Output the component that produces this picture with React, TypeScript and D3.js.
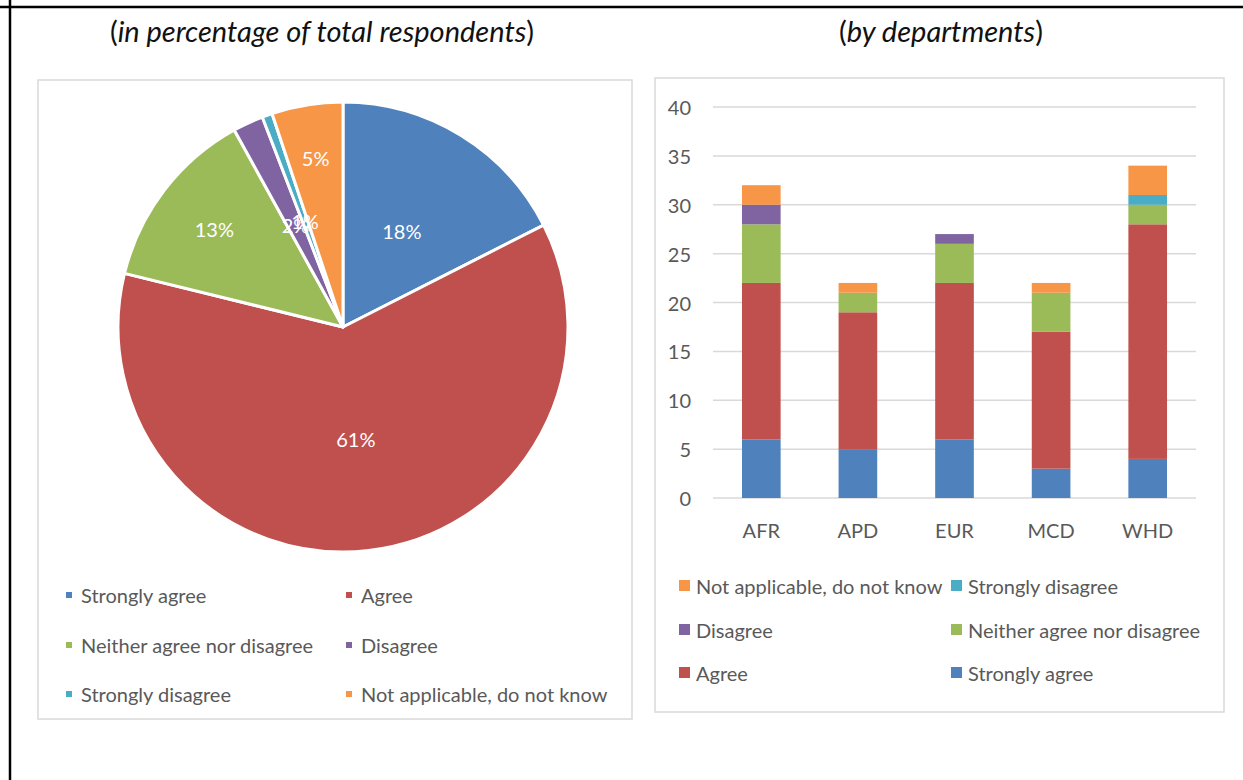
import React from "react";
import * as d3 from "d3";

const seriesNames = [
  "Strongly agree",
  "Agree",
  "Neither agree nor disagree",
  "Disagree",
  "Strongly disagree",
  "Not applicable, do not know",
];
const seriesColors = ["#4F81BD", "#C0504D", "#9BBB59", "#8064A2", "#4BACC6", "#F79646"];

// Pie: total respondents per answer
const pieValues = [24, 84, 18, 3, 1, 7];

// Bar: by departments
const departments = ["AFR", "APD", "EUR", "MCD", "WHD"];
const stronglyAgree = [6, 5, 6, 3, 4];
const agree = [16, 14, 16, 14, 24];
const neither = [6, 2, 4, 4, 2];
const disagree = [2, 0, 1, 0, 0];
const stronglyDisagree = [0, 0, 0, 0, 1];
const notApplicable = [2, 1, 0, 1, 3];
const yTicks = [0, 5, 10, 15, 20, 25, 30, 35, 40];

const barLegendOrder = [5, 4, 3, 2, 1, 0];

const FONT = "Lato, 'Open Sans', sans-serif";
const TEXT = "#595959";

export default function App() {
  // ---- Pie ----
  const cx = 343, cy = 327, R = 225;
  const pie = d3.pie<number>().sort(null).value((d) => d)(pieValues);
  const arc = d3.arc<d3.PieArcDatum<number>>().innerRadius(0).outerRadius(R);
  const total = d3.sum(pieValues);
  const labelRadiusFactor = [0.5, 0.5, 0.72, 0.5, 0.5, 0.76];

  // ---- Bar ----
  const x = d3.scaleBand<string>().domain(departments).range([713, 1196]).paddingInner(0.6).paddingOuter(0.3);
  const y = d3.scaleLinear().domain([0, 40]).range([498, 107]);
  const table = departments.map((d, i) => ({
    dep: d,
    s0: stronglyAgree[i], s1: agree[i], s2: neither[i], s3: disagree[i], s4: stronglyDisagree[i], s5: notApplicable[i],
  }));
  const keys = ["s0", "s1", "s2", "s3", "s4", "s5"];
  const stacked = d3.stack<any>().keys(keys)(table);

  const pieLegendX = [69, 349];
  const pieLegendY = [595, 645, 694];
  const barLegendX = [679, 951];
  const barLegendY = [586, 630, 673];

  return (
    <svg width={1243} height={780} style={{ position: "absolute", left: 0, top: 0 }} fontFamily={FONT}>
      <rect width={1243} height={780} fill="#fff" />
      {/* outer frame */}
      <line x1={0} x2={1243} y1={7} y2={7} stroke="#000" strokeWidth={2.5} />
      <line x1={10} x2={10} y1={0} y2={780} stroke="#000" strokeWidth={2.5} />

      {/* titles */}
      <text x={322} y={42} textAnchor="middle" fontSize={29} fill="#111">
        (<tspan fontStyle="italic">in percentage of total respondents</tspan>)
      </text>
      <text x={941} y={42} textAnchor="middle" fontSize={29} fill="#111">
        (<tspan fontStyle="italic">by departments</tspan>)
      </text>

      {/* pie panel */}
      <rect x={38} y={80} width={594} height={639} fill="#fff" stroke="#D9D9D9" strokeWidth={1.5} />
      <g transform={`translate(${cx},${cy})`}>
        {pie.map((p, i) => (
          <path key={i} d={arc(p) || ""} fill={seriesColors[i]} stroke="#fff" strokeWidth={3} strokeLinejoin="round" />
        ))}
        {pie.map((p, i) => {
          const a = (p.startAngle + p.endAngle) / 2;
          const r = R * labelRadiusFactor[i];
          return (
            <text key={i} x={Math.sin(a) * r} y={-Math.cos(a) * r} textAnchor="middle" dominantBaseline="central"
              fontSize={20} fill="#fff">
              {d3.format(".0%")(p.value / total)}
            </text>
          );
        })}
      </g>
      {seriesNames.map((n, i) => {
        const lx = pieLegendX[i % 2];
        const ly = pieLegendY[Math.floor(i / 2)];
        return (
          <g key={n}>
            <rect x={lx - 3} y={ly - 3} width={6} height={6} fill={seriesColors[i]} />
            <text x={lx + 12} y={ly} dominantBaseline="central" fontSize={20} fill={TEXT}>{n}</text>
          </g>
        );
      })}

      {/* bar panel */}
      <rect x={655} y={78} width={569} height={634} fill="#fff" stroke="#D9D9D9" strokeWidth={1.5} />
      {yTicks.map((t) => (
        <g key={t}>
          <line x1={713} x2={1196} y1={y(t)} y2={y(t)} stroke="#D9D9D9" strokeWidth={1.5} />
          <text x={691} y={y(t)} textAnchor="end" dominantBaseline="central" fontSize={20} fill={TEXT}>{t}</text>
        </g>
      ))}
      {stacked.map((layer, li) => (
        <g key={li} fill={seriesColors[li]}>
          {layer.map((d, j) => (
            <rect key={j} x={x(departments[j])} width={x.bandwidth()} y={y(d[1])} height={Math.max(0, y(d[0]) - y(d[1]))} />
          ))}
        </g>
      ))}
      {departments.map((d) => (
        <text key={d} x={(x(d) || 0) + x.bandwidth() / 2} y={530} textAnchor="middle" dominantBaseline="central" fontSize={20} fill={TEXT}>{d}</text>
      ))}
      {barLegendOrder.map((si, k) => {
        const lx = barLegendX[k % 2];
        const ly = barLegendY[Math.floor(k / 2)];
        return (
          <g key={si}>
            <rect x={lx} y={ly - 6} width={11} height={11} fill={seriesColors[si]} />
            <text x={lx + 17} y={ly} dominantBaseline="central" fontSize={20} fill={TEXT}>{seriesNames[si]}</text>
          </g>
        );
      })}
    </svg>
  );
}
